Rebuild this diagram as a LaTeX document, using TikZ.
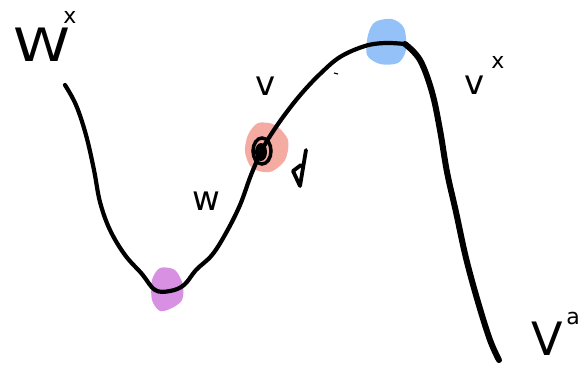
\documentclass[tikz,border=0pt]{standalone}
\usepackage{fontspec}
\setmainfont{DejaVu Sans}
\begin{document}
\begin{tikzpicture}[x=1pt,y=-1pt,
  big/.style={font=\fontsize{46}{46}\selectfont, inner sep=0pt, text depth=0pt, anchor=base},
  sml/.style={font=\fontsize{34}{34}\selectfont, inner sep=0pt},
  sup/.style={font=\fontsize{22}{22}\selectfont, inner sep=0pt},
  curve/.style={line width=4.2pt, line cap=round, line join=round}]
\useasboundingbox (0,0) rectangle (583,368);
\definecolor{blobP}{HTML}{D890E2}
\definecolor{blobR}{HTML}{F4ABA2}
\definecolor{blobB}{HTML}{94C1F8}
% blobs
\fill[blobP] plot[smooth cycle] coordinates {(152,280) (160,268) (175,270) (183,285) (182,300) (172,308) (160,311) (152,300)};
\fill[blobR] plot[smooth cycle] coordinates {(248,135) (258,123) (275,125) (288,140) (285,160) (270,172) (252,168) (245,152)};
\fill[blobB] plot[smooth cycle] coordinates {(368,35) (375,22) (392,19) (404,28) (406,50) (398,63) (380,64) (367,55)};
% curve left part
\draw[curve] plot[smooth, tension=0.6] coordinates {(65,85) (76,105) (86,135) (94,170) (100,202) (110,230) (125,255) (142,274) (155,290) (170,291) (184,285) (196,270) (212,255) (226,233) (240,205) (251,175) (262,150) (272,133) (286,113) (302,93) (320,74) (340,57) (365,46) (385,43) (405,44)};
% curve right part, thicker
\draw[line width=6pt, line cap=round, line join=round] plot[smooth, tension=0.6] coordinates {(405,44) (420,60) (432,92) (440,130) (447,172) (456,212) (466,258) (478,302) (490,340) (499,360)};
% scribble loop
\draw[line width=3.5pt] (262,151) ellipse (9pt and 13pt);
\fill (261,152) ellipse (6pt and 9pt);
% tiny mark
\coordinate (dash) at (336,73);
\draw[line width=1.2pt] (334,73) -- (338,74);
% arrow-like mark
\coordinate (arr) at (301,168);
\draw[line width=3.8pt, line cap=round, line join=round] (306,150) -- (300,186) -- (293,171) -- (301,165);
% labels
\node[big, xscale=1.25] (W) at (42,61) {W};
\node[sup] (Wx) at (70,17) {x};
\node[sml] (v) at (266,86) {v};
\node[sml] (w) at (206,201) {w};
\node[sml] (vs) at (475,85) {v};
\node[sup] (vsx) at (498,62) {x};
\node[big] (V) at (547,355) {V};
\node[sup] (Va) at (573,318) {a};
\end{tikzpicture}
\end{document}
